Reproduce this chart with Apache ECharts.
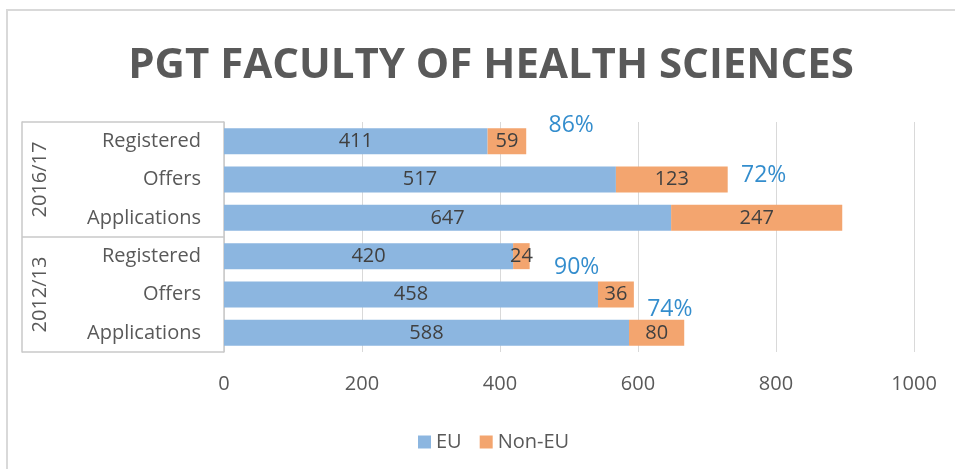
<!DOCTYPE html>
<html>
<head>
<meta charset="utf-8">
<script src="https://cdn.jsdelivr.net/npm/echarts@6/dist/echarts.min.js"></script>
<style>
  html, body { margin: 0; padding: 0; background: #fff; }
  #chart { width: 955px; height: 469px; }
</style>
</head>
<body>
<div id="chart"></div>
<script>
// rows listed bottom to top, as they appear on the axis
const years = ['2012/13', '2016/17'];
const stages = ['Applications', 'Offers', 'Registered'];

// bar lengths as drawn in the picture
const euBars = [587, 542, 419, 648, 568, 382];
const nonEuBars = [80, 52, 24, 248, 162, 56];

// numbers printed on the bars
const euLabels = ['588', '458', '420', '647', '517', '411'];
const nonEuLabels = ['80', '36', '24', '247', '123', '59'];

// blue percentage notes beside the bars
const pctLabels = ['', '74%', '90%', '', '72%', '86%'];

const xTicks = [0, 200, 400, 600, 800, 1000];

const rowNames = [];
for (const y of years) {
  for (const s of stages) rowNames.push(s);
}

const FONT = 'Open Sans';
const GREY = '#595959';
const BOX = '#c9c9c9';

// where each blue note sits relative to the end of its bar (px)
const pctNudge = { 1: [36, 15], 2: [47, 11], 4: [36, -4], 5: [45, -16] };

const pctData = [];
pctLabels.forEach((t, i) => {
  if (!t) return;
  pctData.push({
    value: [euBars[i] + nonEuBars[i], i],
    label: { offset: pctNudge[i] }
  });
});

const chart = echarts.init(document.getElementById('chart'));

chart.setOption({
  animation: false,
  textStyle: { fontFamily: FONT },
  graphic: [{
    type: 'rect',
    shape: { x: 7, y: 10, width: 960, height: 480 },
    style: { fill: 'none', stroke: '#d9d9d9', lineWidth: 2 },
    silent: true
  }],
  title: {
    text: 'PGT FACULTY OF HEALTH SCIENCES',
    left: 486,
    top: 40,
    textAlign: 'center',
    textStyle: { fontFamily: FONT, fontWeight: 'bold', fontSize: 42, color: GREY }
  },
  legend: {
    data: ['EU', 'Non-EU'],
    left: 413,
    top: 427,
    itemWidth: 13,
    itemHeight: 13,
    itemGap: 18,
    icon: 'rect',
    textStyle: { fontFamily: FONT, fontSize: 20, color: GREY }
  },
  grid: { left: 224, right: 41, top: 122, bottom: 117 },
  xAxis: {
    type: 'value',
    min: xTicks[0],
    max: xTicks[xTicks.length - 1],
    interval: xTicks[1] - xTicks[0],
    axisLine: { show: false },
    axisTick: { show: false },
    splitLine: { lineStyle: { color: '#d9d9d9', width: 1 } },
    axisLabel: { fontFamily: FONT, fontSize: 20, color: GREY, margin: 22, formatter: v => String(v) }
  },
  yAxis: [{
    type: 'category',
    data: rowNames,
    axisLine: { show: true, lineStyle: { color: BOX, width: 1.5 } },
    axisTick: { show: false },
    axisLabel: { fontFamily: FONT, fontSize: 20, color: GREY, margin: 23 }
  }, {
    type: 'category',
    data: years,
    position: 'left',
    offset: 202,
    axisLine: { show: true, lineStyle: { color: BOX, width: 1.5 } },
    axisTick: { show: true, inside: true, length: 202, lineStyle: { color: BOX, width: 1.5 } },
    axisLabel: { inside: true, rotate: 90, margin: 8, fontFamily: FONT, fontSize: 20, color: GREY }
  }],
  series: [{
    name: 'EU',
    type: 'bar',
    stack: 'total',
    barWidth: 26,
    itemStyle: { color: '#8cb6e0' },
    label: {
      show: true,
      position: 'inside',
      fontFamily: FONT,
      fontSize: 20,
      color: '#404040',
      formatter: p => euLabels[p.dataIndex]
    },
    data: euBars
  }, {
    name: 'Non-EU',
    type: 'bar',
    stack: 'total',
    barWidth: 26,
    itemStyle: { color: '#f3a56f' },
    label: {
      show: true,
      position: 'inside',
      fontFamily: FONT,
      fontSize: 20,
      color: '#404040',
      formatter: p => nonEuLabels[p.dataIndex]
    },
    data: nonEuBars
  }, {
    name: 'pct',
    type: 'scatter',
    symbolSize: 0,
    silent: true,
    label: {
      show: true,
      position: 'inside',
      fontFamily: FONT,
      fontSize: 23,
      color: '#0070c0',
      formatter: p => pctLabels[p.value[1]]
    },
    data: pctData
  }]
});
</script>
</body>
</html>
